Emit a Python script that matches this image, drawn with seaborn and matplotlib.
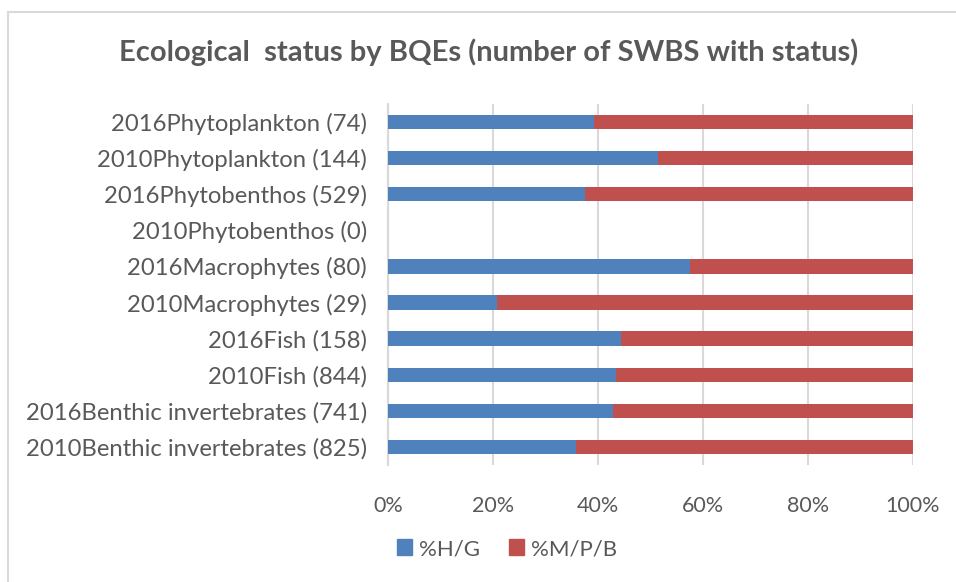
import matplotlib
matplotlib.use("Agg")
import matplotlib.pyplot as plt
import matplotlib.patches as mpatches
import pandas as pd
import seaborn as sns

categories = [
    "2016Phytoplankton (74)",
    "2010Phytoplankton (144)",
    "2016Phytobenthos (529)",
    "2010Phytobenthos (0)",
    "2016Macrophytes (80)",
    "2010Macrophytes (29)",
    "2016Fish (158)",
    "2010Fish (844)",
    "2016Benthic invertebrates (741)",
    "2010Benthic invertebrates (825)",
]
pct_hg = [39.2, 51.5, 37.6, 0, 57.5, 20.7, 44.4, 43.4, 42.9, 35.9]
pct_mpb = [60.8, 48.5, 62.4, 0, 42.5, 79.3, 55.6, 56.6, 57.1, 64.1]
series_names = ["%H/G", "%M/P/B"]
series_colors = ["#4f81bd", "#c0504d"]
xticks = [0, 20, 40, 60, 80, 100]

df = pd.DataFrame({"cat": categories, "hg": pct_hg, "mpb": pct_mpb})
df["total"] = df["hg"] + df["mpb"]

sns.set_style("white")
plt.rcParams["font.family"] = ["Lato", "DejaVu Sans"]
text_col = "#595959"

fig = plt.figure(figsize=(9.56, 5.82), dpi=100)
ax = fig.add_axes([388 / 956, 1 - 465 / 582, 525 / 956, 361 / 582])

# stacked bars: full length in red, then blue part on top
sns.barplot(data=df, y="cat", x="total", color=series_colors[1], width=0.4,
            orient="h", ax=ax, saturation=1, linewidth=0, zorder=3)
sns.barplot(data=df, y="cat", x="hg", color=series_colors[0], width=0.4,
            orient="h", ax=ax, saturation=1, linewidth=0, zorder=4)

ax.set_xlim(0, 100)
ax.set_xticks(xticks)
ax.set_xticklabels([f"{t}%" for t in xticks])
ax.set_xlabel("")
ax.set_ylabel("")
ax.grid(axis="x", color="#d9d9d9", linewidth=1.5, zorder=0)
for s in ["top", "right", "bottom"]:
    ax.spines[s].set_visible(False)
ax.spines["left"].set_color("#d9d9d9")
ax.spines["left"].set_linewidth(1.5)
ax.tick_params(axis="x", length=0, pad=22, labelsize=15.5, labelcolor=text_col)
ax.tick_params(axis="y", length=0, pad=15, labelsize=17.2, labelcolor=text_col)

fig.text(489 / 956, 1 - 52 / 582, "Ecological  status by BQEs (number of SWBS with status)",
         ha="center", va="center", fontsize=21, fontweight="bold", color=text_col)

handles = [mpatches.Patch(color=c, label=n) for c, n in zip(series_colors, series_names)]
leg = fig.legend(handles=handles, loc="center", bbox_to_anchor=(507 / 956, 1 - 549 / 582),
                 ncol=2, frameon=False, handlelength=0.7, handleheight=0.7,
                 handletextpad=0.3, columnspacing=1.3, fontsize=16)
for t in leg.get_texts():
    t.set_color(text_col)

# chart border (cropped on right/bottom)
fig.patches.append(mpatches.Rectangle((8 / 956, -0.1), 1.2, 1 - 12 / 582 + 0.1,
                                      transform=fig.transFigure, fill=False,
                                      edgecolor="#d9d9d9", linewidth=1.5))

fig.savefig("out.png", dpi=100)
